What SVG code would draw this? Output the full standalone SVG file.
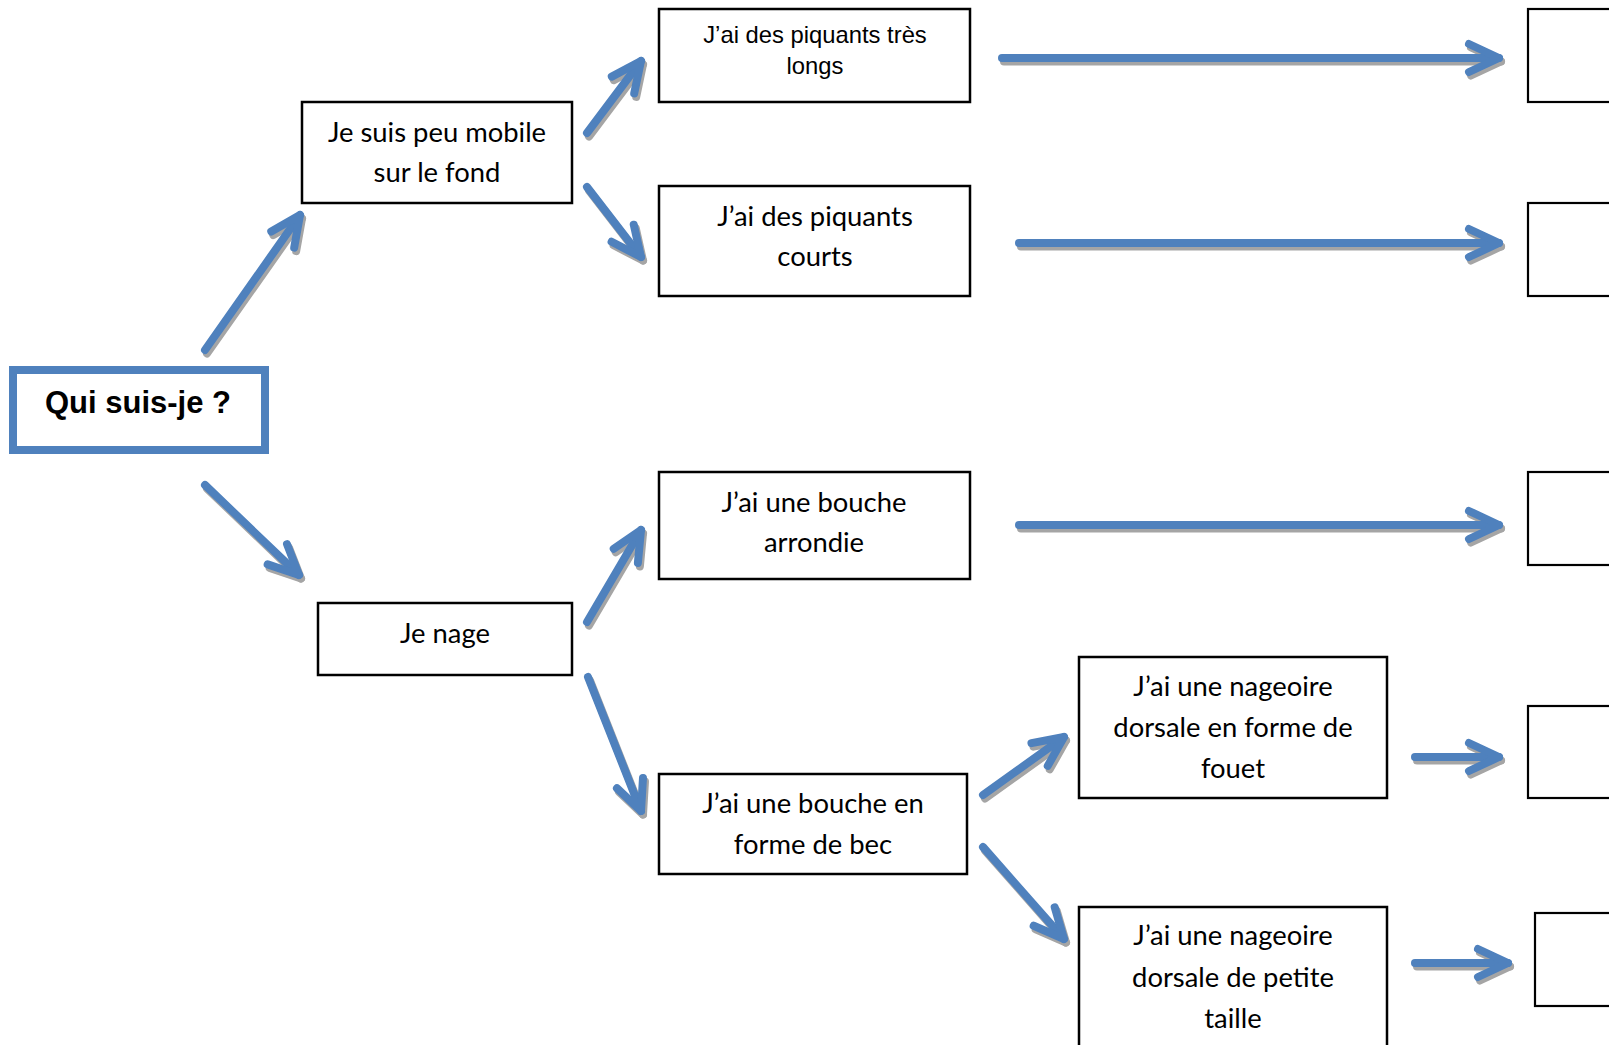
<svg xmlns="http://www.w3.org/2000/svg" width="1609" height="1045" viewBox="0 0 1609 1045">
<style>
.box{fill:#fff;stroke:#000;stroke-width:2.5}
.rbox{fill:#fff;stroke:#000;stroke-width:2.2}
.c{font-family:Lato,"Open Sans","Liberation Sans",sans-serif;font-size:27.4px;text-anchor:middle;fill:#000}
.a{font-family:"Liberation Sans",Arial,sans-serif;font-size:23.8px;text-anchor:middle;fill:#000}
.q{font-family:"Liberation Sans",Arial,sans-serif;font-size:31px;font-weight:bold;text-anchor:middle;fill:#000}
.arr{fill:none;stroke:#4F81BD;stroke-width:8;stroke-linecap:round;stroke-linejoin:round;marker-end:url(#hb)}
.sh{fill:none;stroke:#A5A5A5;stroke-width:8;stroke-linecap:round;stroke-linejoin:round;marker-end:url(#hg)}
</style>
<defs>
<marker id="hb" markerUnits="userSpaceOnUse" orient="auto" overflow="visible" markerWidth="10" markerHeight="10">
<path d="M-30,-14 L0,0 L-30,14" fill="none" stroke="#4F81BD" stroke-width="8" stroke-linecap="round" stroke-linejoin="round"/>
</marker>
<marker id="hg" markerUnits="userSpaceOnUse" orient="auto" overflow="visible" markerWidth="10" markerHeight="10">
<path d="M-30,-14 L0,0 L-30,14" fill="none" stroke="#A5A5A5" stroke-width="8" stroke-linecap="round" stroke-linejoin="round"/>
</marker>
</defs>
<rect width="1609" height="1045" fill="#fff"/>
<g id="connectors">
<g transform="translate(2,3.5)">
<path class="sh" d="M205,350 L300,215"/>
<path class="sh" d="M205,485 L299,575"/>
<path class="sh" d="M587,133 L641,61"/>
<path class="sh" d="M587,187 L641,257"/>
<path class="sh" d="M587,622 L641,530"/>
<path class="sh" d="M588,677 L641,811"/>
<path class="sh" d="M983,795 L1064,737"/>
<path class="sh" d="M983,847 L1064,939"/>
<path class="sh" d="M1002,58 L1499,58"/>
<path class="sh" d="M1019,243 L1499,243"/>
<path class="sh" d="M1019,525 L1499,525"/>
<path class="sh" d="M1415,757 L1499,757"/>
<path class="sh" d="M1415,963 L1508,963"/>
</g>
<g>
<path class="arr" d="M205,350 L300,215"/>
<path class="arr" d="M205,485 L299,575"/>
<path class="arr" d="M587,133 L641,61"/>
<path class="arr" d="M587,187 L641,257"/>
<path class="arr" d="M587,622 L641,530"/>
<path class="arr" d="M588,677 L641,811"/>
<path class="arr" d="M983,795 L1064,737"/>
<path class="arr" d="M983,847 L1064,939"/>
<path class="arr" d="M1002,58 L1499,58"/>
<path class="arr" d="M1019,243 L1499,243"/>
<path class="arr" d="M1019,525 L1499,525"/>
<path class="arr" d="M1415,757 L1499,757"/>
<path class="arr" d="M1415,963 L1508,963"/>
</g>
</g>
<g id="qui">
<rect x="13" y="370" width="252" height="80" fill="#fff" stroke="#4F81BD" stroke-width="8"/>
<text class="q" x="138" y="413">Qui suis-je ?</text>
</g>
<g id="mobile">
<rect class="box" x="302" y="102" width="270" height="101"/>
<text class="c" x="437" y="142">Je suis peu mobile</text>
<text class="c" x="437" y="182">sur le fond</text>
</g>
<g id="nage">
<rect class="box" x="318" y="603" width="254" height="72"/>
<text class="c" x="445" y="643">Je nage</text>
</g>
<g id="longs">
<rect class="box" x="659" y="9" width="311" height="93"/>
<text class="a" x="815" y="43">J’ai des piquants très</text>
<text class="a" x="815" y="74">longs</text>
</g>
<g id="courts">
<rect class="box" x="659" y="186" width="311" height="110"/>
<text class="c" x="815" y="226">J’ai des piquants</text>
<text class="c" x="815" y="266">courts</text>
</g>
<g id="arrondie">
<rect class="box" x="659" y="472" width="311" height="107"/>
<text class="c" x="814" y="512">J’ai une bouche</text>
<text class="c" x="814" y="552">arrondie</text>
</g>
<g id="bec">
<rect class="box" x="659" y="774" width="308" height="100"/>
<text class="c" x="813" y="813">J’ai une bouche en</text>
<text class="c" x="813" y="854">forme de bec</text>
</g>
<g id="fouet">
<rect class="box" x="1079" y="657" width="308" height="141"/>
<text class="c" x="1233" y="696">J’ai une nageoire</text>
<text class="c" x="1233" y="737">dorsale en forme de</text>
<text class="c" x="1233" y="778">fouet</text>
</g>
<g id="taille">
<rect class="box" x="1079" y="907" width="308" height="160"/>
<text class="c" x="1233" y="945">J’ai une nageoire</text>
<text class="c" x="1233" y="987">dorsale de petite</text>
<text class="c" x="1233" y="1028">taille</text>
</g>
<g id="r1"><rect class="rbox" x="1528" y="9" width="100" height="93"/></g>
<g id="r2"><rect class="rbox" x="1528" y="203" width="100" height="93"/></g>
<g id="r3"><rect class="rbox" x="1528" y="472" width="100" height="93"/></g>
<g id="r4"><rect class="rbox" x="1528" y="706" width="100" height="92"/></g>
<g id="r5"><rect class="rbox" x="1535" y="913" width="100" height="93"/></g>
</svg>
